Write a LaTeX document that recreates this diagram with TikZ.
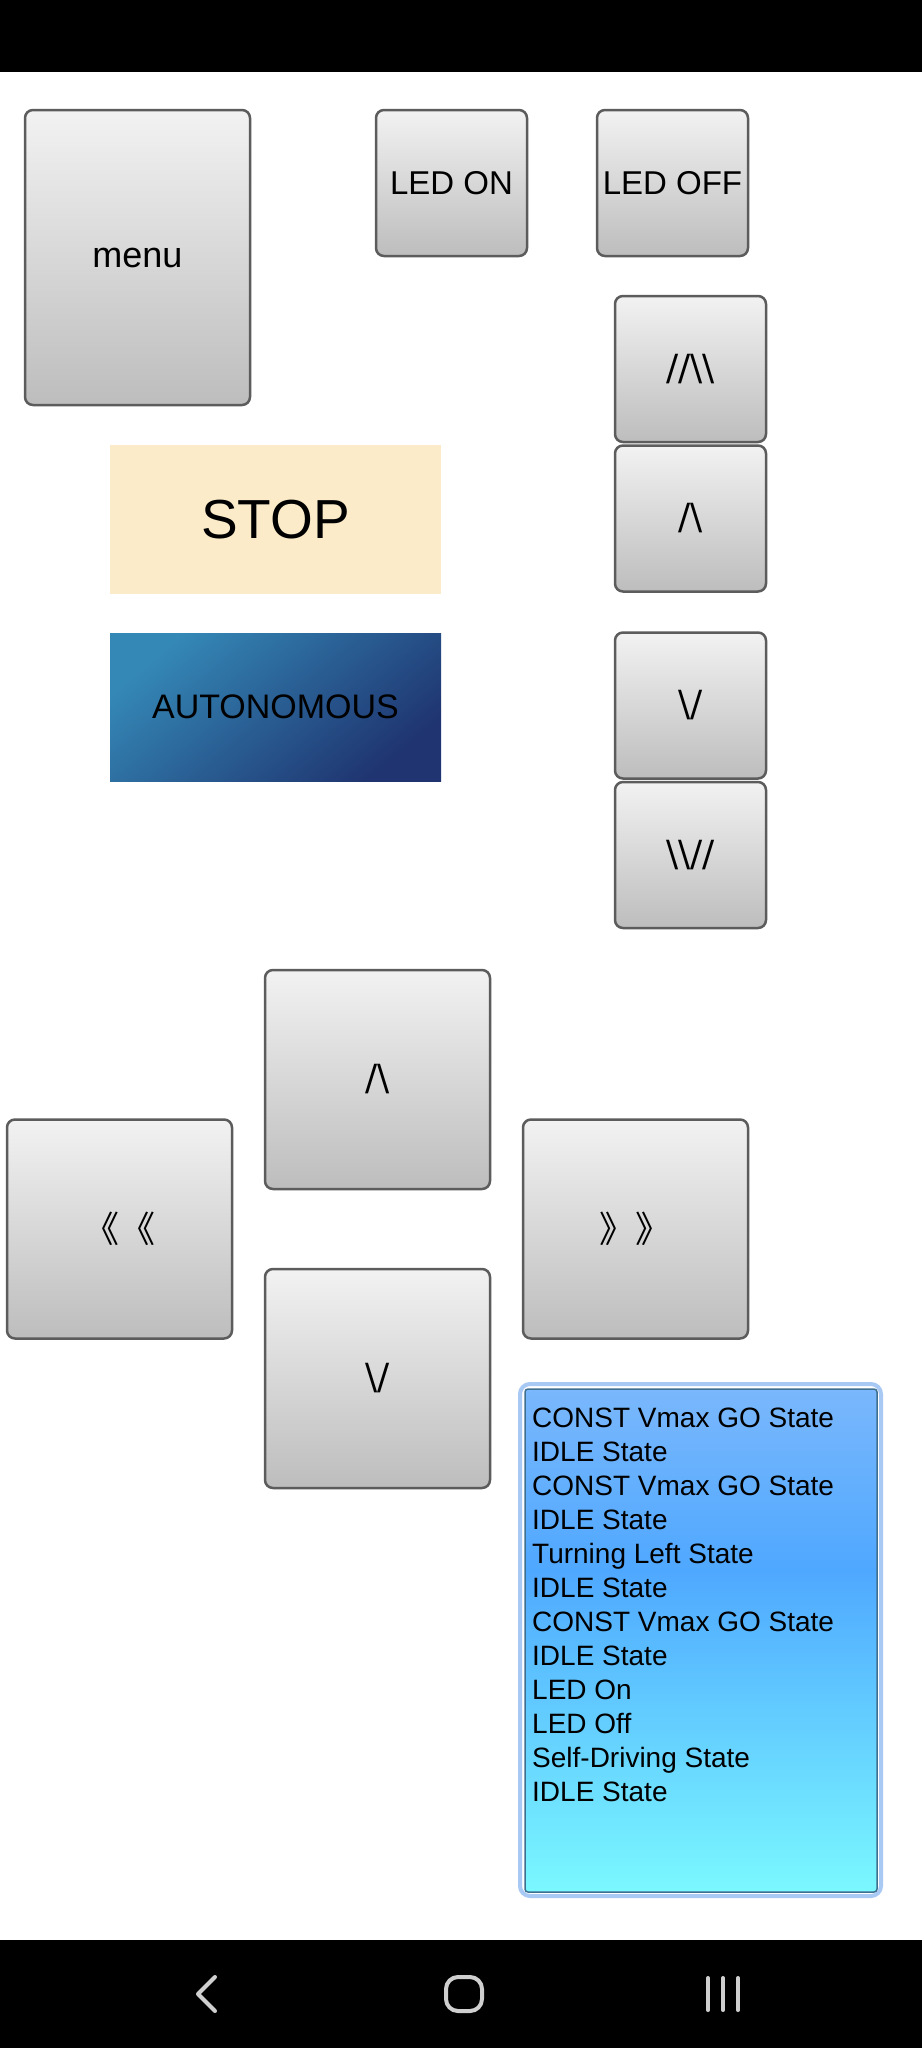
\documentclass[tikz,border=0pt]{standalone}
\usepackage{fontspec}
\setmainfont{Liberation Sans}
\newfontfamily\arrowfont{DejaVu Sans}
\newfontfamily\cjk{Noto Sans CJK SC}
\usetikzlibrary{shadings}

\definecolor{btntop}{HTML}{F2F2F2}
\definecolor{btnbot}{HTML}{BDBDBD}
\definecolor{btnline}{HTML}{5C5C5C}
\definecolor{stopfill}{HTML}{FBEBC8}
\definecolor{autoA}{HTML}{3488B6}
\definecolor{autoB}{HTML}{2D5CA2}
\definecolor{autoC}{HTML}{1F3470}
\definecolor{listtop}{HTML}{7AB7FC}
\definecolor{listmid}{HTML}{4FA8FF}
\definecolor{listbot}{HTML}{7AF8FF}
\definecolor{listrim}{HTML}{A9C9F5}
\definecolor{listedge}{HTML}{3F6F8F}
\definecolor{navgray}{HTML}{CFCFCF}

\pgfdeclareverticalshading{logshade}{100bp}{color(0bp)=(listbot); color(25bp)=(listbot); color(57bp)=(listmid); color(75bp)=(listtop); color(100bp)=(listtop)}

\tikzset{
  btn/.style={draw=btnline, line width=2.5pt, rounded corners=8pt,
    top color=btntop, bottom color=btnbot, inner sep=0pt,
    font=\fontsize{33}{40}\selectfont},
  smallbtn/.style={btn, minimum width=151pt, minimum height=146pt},
  padbtn/.style={btn, minimum width=225pt, minimum height=219pt},
  arrowtxt/.style={font=\arrowfont\fontsize{36}{40}\selectfont},
  logline/.style={anchor=base west, inner sep=0pt, font=\fontsize{28}{34}\selectfont},
  navicon/.style={draw=navgray, line width=4pt, line cap=round, line join=round}
}

\begin{document}
\begin{tikzpicture}[x=1pt,y=-1pt]

\useasboundingbox (0,0) rectangle (922,2048);
\fill[white] (0,0) rectangle (922,2048);

%status bar
\fill[black] (0,0) rectangle (922,72);

%menu
\node[btn, minimum width=225pt, minimum height=295pt, font=\fontsize{36}{40}\selectfont] (menu) at (137.5,257.5) {menu};

%led buttons
\node[smallbtn] (ledon) at (451.5,183) {LED ON};
\node[smallbtn] (ledoff) at (672.5,183) {LED OFF};

%speed buttons
\node[smallbtn, arrowtxt] (fastup) at (690.5,369) {//\textbackslash\textbackslash};
\node[smallbtn, arrowtxt] (slowup) at (690.5,518.5) {/\textbackslash};
\node[smallbtn, arrowtxt] (slowdown) at (690.5,705.5) {\textbackslash/};
\node[smallbtn, arrowtxt] (fastdown) at (690.5,855) {\textbackslash\textbackslash//};

%stop
\node[fill=stopfill, minimum width=331pt, minimum height=149pt, inner sep=0pt,
  font=\fontsize{55}{60}\selectfont] (stop) at (275.5,519.5) {STOP};

%autonomous
\node[top color=autoA, middle color=autoB, bottom color=autoC, shading angle=40,
  minimum width=331pt, minimum height=148pt, inner sep=0pt,
  font=\fontsize{34}{40}\selectfont] (auto) at (275.5,707) {AUTONOMOUS};

%direction pad
\node[padbtn, arrowtxt] (padup) at (377.5,1079.5) {/\textbackslash};
\node[padbtn, font=\cjk\fontsize{36}{40}\selectfont] (padleft) at (119.5,1229) {《《};
\node[padbtn, font=\cjk\fontsize{36}{40}\selectfont] (padright) at (635.5,1229) {》》};
\node[padbtn, arrowtxt] (paddown) at (377.5,1378.5) {\textbackslash/};

%state log
\node[draw=listrim, line width=4pt, fill=white, rounded corners=10pt,
  minimum width=361pt, minimum height=512pt] (listrim) at (700.5,1640) {};
\node[draw=listedge, line width=1.5pt, rounded corners=3pt, shading=logshade,
  minimum width=352pt, minimum height=503pt] (listbox) at (701,1640.5) {};

\node[logline] (log1) at (532,1427) {CONST Vmax GO State};
\node[logline] (log2) at (532,1461) {IDLE State};
\node[logline] (log3) at (532,1495) {CONST Vmax GO State};
\node[logline] (log4) at (532,1529) {IDLE State};
\node[logline] (log5) at (532,1563) {Turning Left State};
\node[logline] (log6) at (532,1597) {IDLE State};
\node[logline] (log7) at (532,1631) {CONST Vmax GO State};
\node[logline] (log8) at (532,1665) {IDLE State};
\node[logline] (log9) at (532,1699) {LED On};
\node[logline] (log10) at (532,1733) {LED Off};
\node[logline] (log11) at (532,1767) {Self-Driving State};
\node[logline] (log12) at (532,1801) {IDLE State};

%navigation bar
\fill[black] (0,1940) rectangle (922,2048);
\draw[navicon] (215,1977) -- (198,1994) -- (215,2011);
\draw[navicon, rounded corners=12pt] (446,1977) rectangle (482,2011);
\draw[navicon] (708,1978) -- (708,2010);
\draw[navicon] (723,1978) -- (723,2010);
\draw[navicon] (738,1978) -- (738,2010);

\end{tikzpicture}
\end{document}
